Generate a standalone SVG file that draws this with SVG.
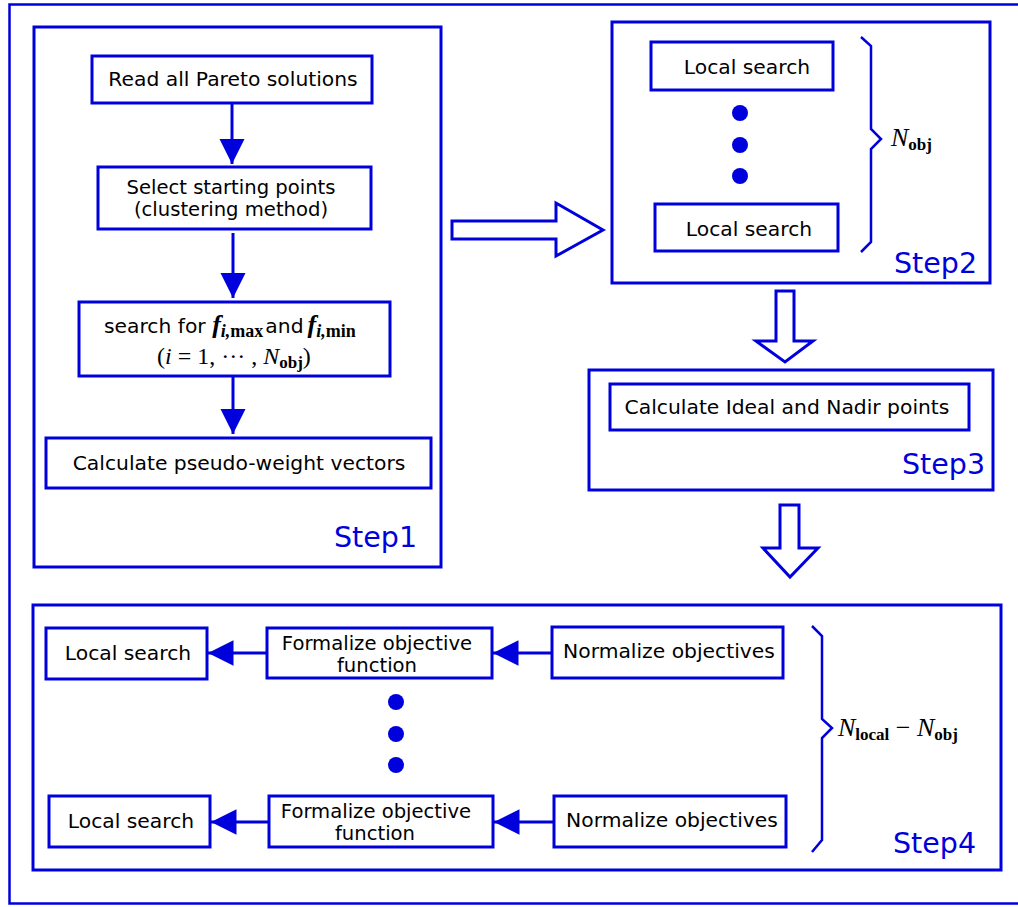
<svg xmlns="http://www.w3.org/2000/svg" width="1018" height="907" viewBox="0 0 1018 907">
<style>
.b{fill:#fff;stroke:#0000dc;stroke-width:3}
.f{fill:none;stroke:#0000dc;stroke-width:2.5}
.t{font-family:"DejaVu Sans",sans-serif;font-size:20.3px;fill:#000;text-anchor:middle}
.t2{font-family:"DejaVu Sans",sans-serif;font-size:19.6px;fill:#000;text-anchor:middle}
.s{font-family:"DejaVu Sans",sans-serif;font-size:28.5px;fill:#0000dc}
.m{font-family:"Liberation Serif",serif;font-size:26px;fill:#000}
.mf{font-family:"Liberation Serif",serif;font-size:26px;font-weight:bold;font-style:italic}
.ms{font-family:"Liberation Serif",serif;font-size:18px;font-weight:bold}
.ln{stroke:#0000dc;stroke-width:3;fill:none}
.ha{fill:#fff;stroke:#0000dc;stroke-width:3;stroke-linejoin:miter}
.dot{fill:#0000dc}
</style>
<defs>
<marker id="ah" viewBox="0 0 10 10" refX="10" refY="5" markerWidth="8.5" markerHeight="8.5" markerUnits="strokeWidth" orient="auto">
<path d="M0,0 L10,5 L0,10 Z" fill="#0000dc"/>
</marker>
</defs>
<rect x="9.5" y="4.5" width="1020" height="899" class="f"/>

<g id="step1">
<rect x="34" y="27" width="407" height="540" class="b"/>
<text x="334" y="547" class="s">Step1</text>
</g>
<g id="n_read">
<rect x="92" y="56" width="280" height="47" class="b"/>
<text x="233" y="86" class="t">Read all Pareto solutions</text>
</g>
<g id="n_select">
<rect x="98" y="167" width="273" height="62" class="b"/>
<text x="231" y="194" class="t2">Select starting points</text>
<text x="231" y="216" class="t2">(clustering method)</text>
</g>
<g id="n_search">
<rect x="79" y="302" width="311" height="74" class="b"/>
<text x="104" y="333" style="font-family:'DejaVu Sans',sans-serif;font-size:20.3px">search for <tspan class="mf">f</tspan><tspan class="ms" dy="4" font-style="italic">i,</tspan><tspan class="ms">max</tspan><tspan dy="-4" dx="2">and</tspan><tspan class="mf" dx="4">f</tspan><tspan class="ms" dy="4" font-style="italic">i,</tspan><tspan class="ms">min</tspan></text>
<text x="157" y="364" class="m" style="font-size:24px">(<tspan font-style="italic">i</tspan> = 1, ··· , <tspan font-style="italic">N</tspan><tspan style="font-size:17px" font-weight="bold" dy="4">obj</tspan><tspan dy="-4">)</tspan></text>
</g>
<g id="n_pseudo">
<rect x="46" y="438" width="385" height="50" class="b"/>
<text x="239" y="470" class="t">Calculate pseudo-weight vectors</text>
</g>

<g id="step2">
<rect x="612" y="22" width="378" height="261" class="b"/>
<text x="894" y="273" class="s">Step2</text>
<rect x="651" y="42" width="182" height="48" class="b"/>
<text x="747" y="74" class="t">Local search</text>
<circle cx="740" cy="113" r="8" class="dot"/>
<circle cx="740" cy="145" r="8" class="dot"/>
<circle cx="740" cy="176" r="8" class="dot"/>
<rect x="655" y="204" width="183" height="47" class="b"/>
<text x="749" y="236" class="t">Local search</text>
<path d="M861,37 L871,46 L871,129 L881,139 L871,149 L871,242 L861,252" class="f"/>
<text x="891" y="146" class="m"><tspan font-style="italic">N</tspan><tspan style="font-size:17px" font-weight="bold" dy="4">obj</tspan></text>
</g>

<g id="step3">
<rect x="589" y="370" width="404" height="120" class="b"/>
<text x="902" y="474" class="s">Step3</text>
<rect x="610" y="384" width="359" height="46" class="b"/>
<text x="787" y="414" class="t">Calculate Ideal and Nadir points</text>
</g>

<g id="step4">
<rect x="33" y="605" width="968" height="265" class="b"/>
<text x="893" y="853" class="s">Step4</text>
<rect x="46" y="628" width="161" height="51" class="b"/>
<text x="128" y="660" class="t">Local search</text>
<rect x="267" y="628" width="225" height="50" class="b"/>
<text x="377" y="650" class="t2">Formalize objective</text>
<text x="377" y="672" class="t2">function</text>
<rect x="552" y="627" width="231" height="51" class="b"/>
<text x="669" y="658" class="t">Normalize objectives</text>
<circle cx="396" cy="702" r="8" class="dot"/>
<circle cx="396" cy="734" r="8" class="dot"/>
<circle cx="396" cy="765" r="8" class="dot"/>
<rect x="49" y="796" width="161" height="51" class="b"/>
<text x="131" y="828" class="t">Local search</text>
<rect x="269" y="796" width="224" height="51" class="b"/>
<text x="376" y="818" class="t2">Formalize objective</text>
<text x="375" y="840" class="t2">function</text>
<rect x="554" y="796" width="232" height="51" class="b"/>
<text x="672" y="827" class="t">Normalize objectives</text>
<path d="M812,626 L822,636 L822,719 L832,728 L822,738 L822,840 L812,852" class="f"/>
<text x="838" y="736" class="m"><tspan font-style="italic">N</tspan><tspan style="font-size:17px" font-weight="bold" dy="4">local</tspan><tspan dy="-4"> − </tspan><tspan font-style="italic">N</tspan><tspan style="font-size:17px" font-weight="bold" dy="4">obj</tspan></text>
</g>

<g id="connectors">
<line x1="232" y1="103" x2="232" y2="164" class="ln" marker-end="url(#ah)"/>
<line x1="233" y1="233" x2="233" y2="298" class="ln" marker-end="url(#ah)"/>
<line x1="233" y1="377" x2="233" y2="434" class="ln" marker-end="url(#ah)"/>
<line x1="552" y1="653" x2="493" y2="653" class="ln" marker-end="url(#ah)"/>
<line x1="267" y1="653" x2="208" y2="653" class="ln" marker-end="url(#ah)"/>
<line x1="554" y1="822" x2="494" y2="822" class="ln" marker-end="url(#ah)"/>
<line x1="269" y1="822" x2="211" y2="822" class="ln" marker-end="url(#ah)"/>
<path d="M452,221 L556,221 L556,203 L603,230 L556,256 L556,239 L452,239 Z" class="ha"/>
<path d="M776,291 L794,291 L794,341 L813,341 L785,362 L756,341 L776,341 Z" class="ha"/>
<path d="M780,505 L799,505 L799,548 L818,548 L790,577 L763,548 L780,548 Z" class="ha"/>
</g>
</svg>
